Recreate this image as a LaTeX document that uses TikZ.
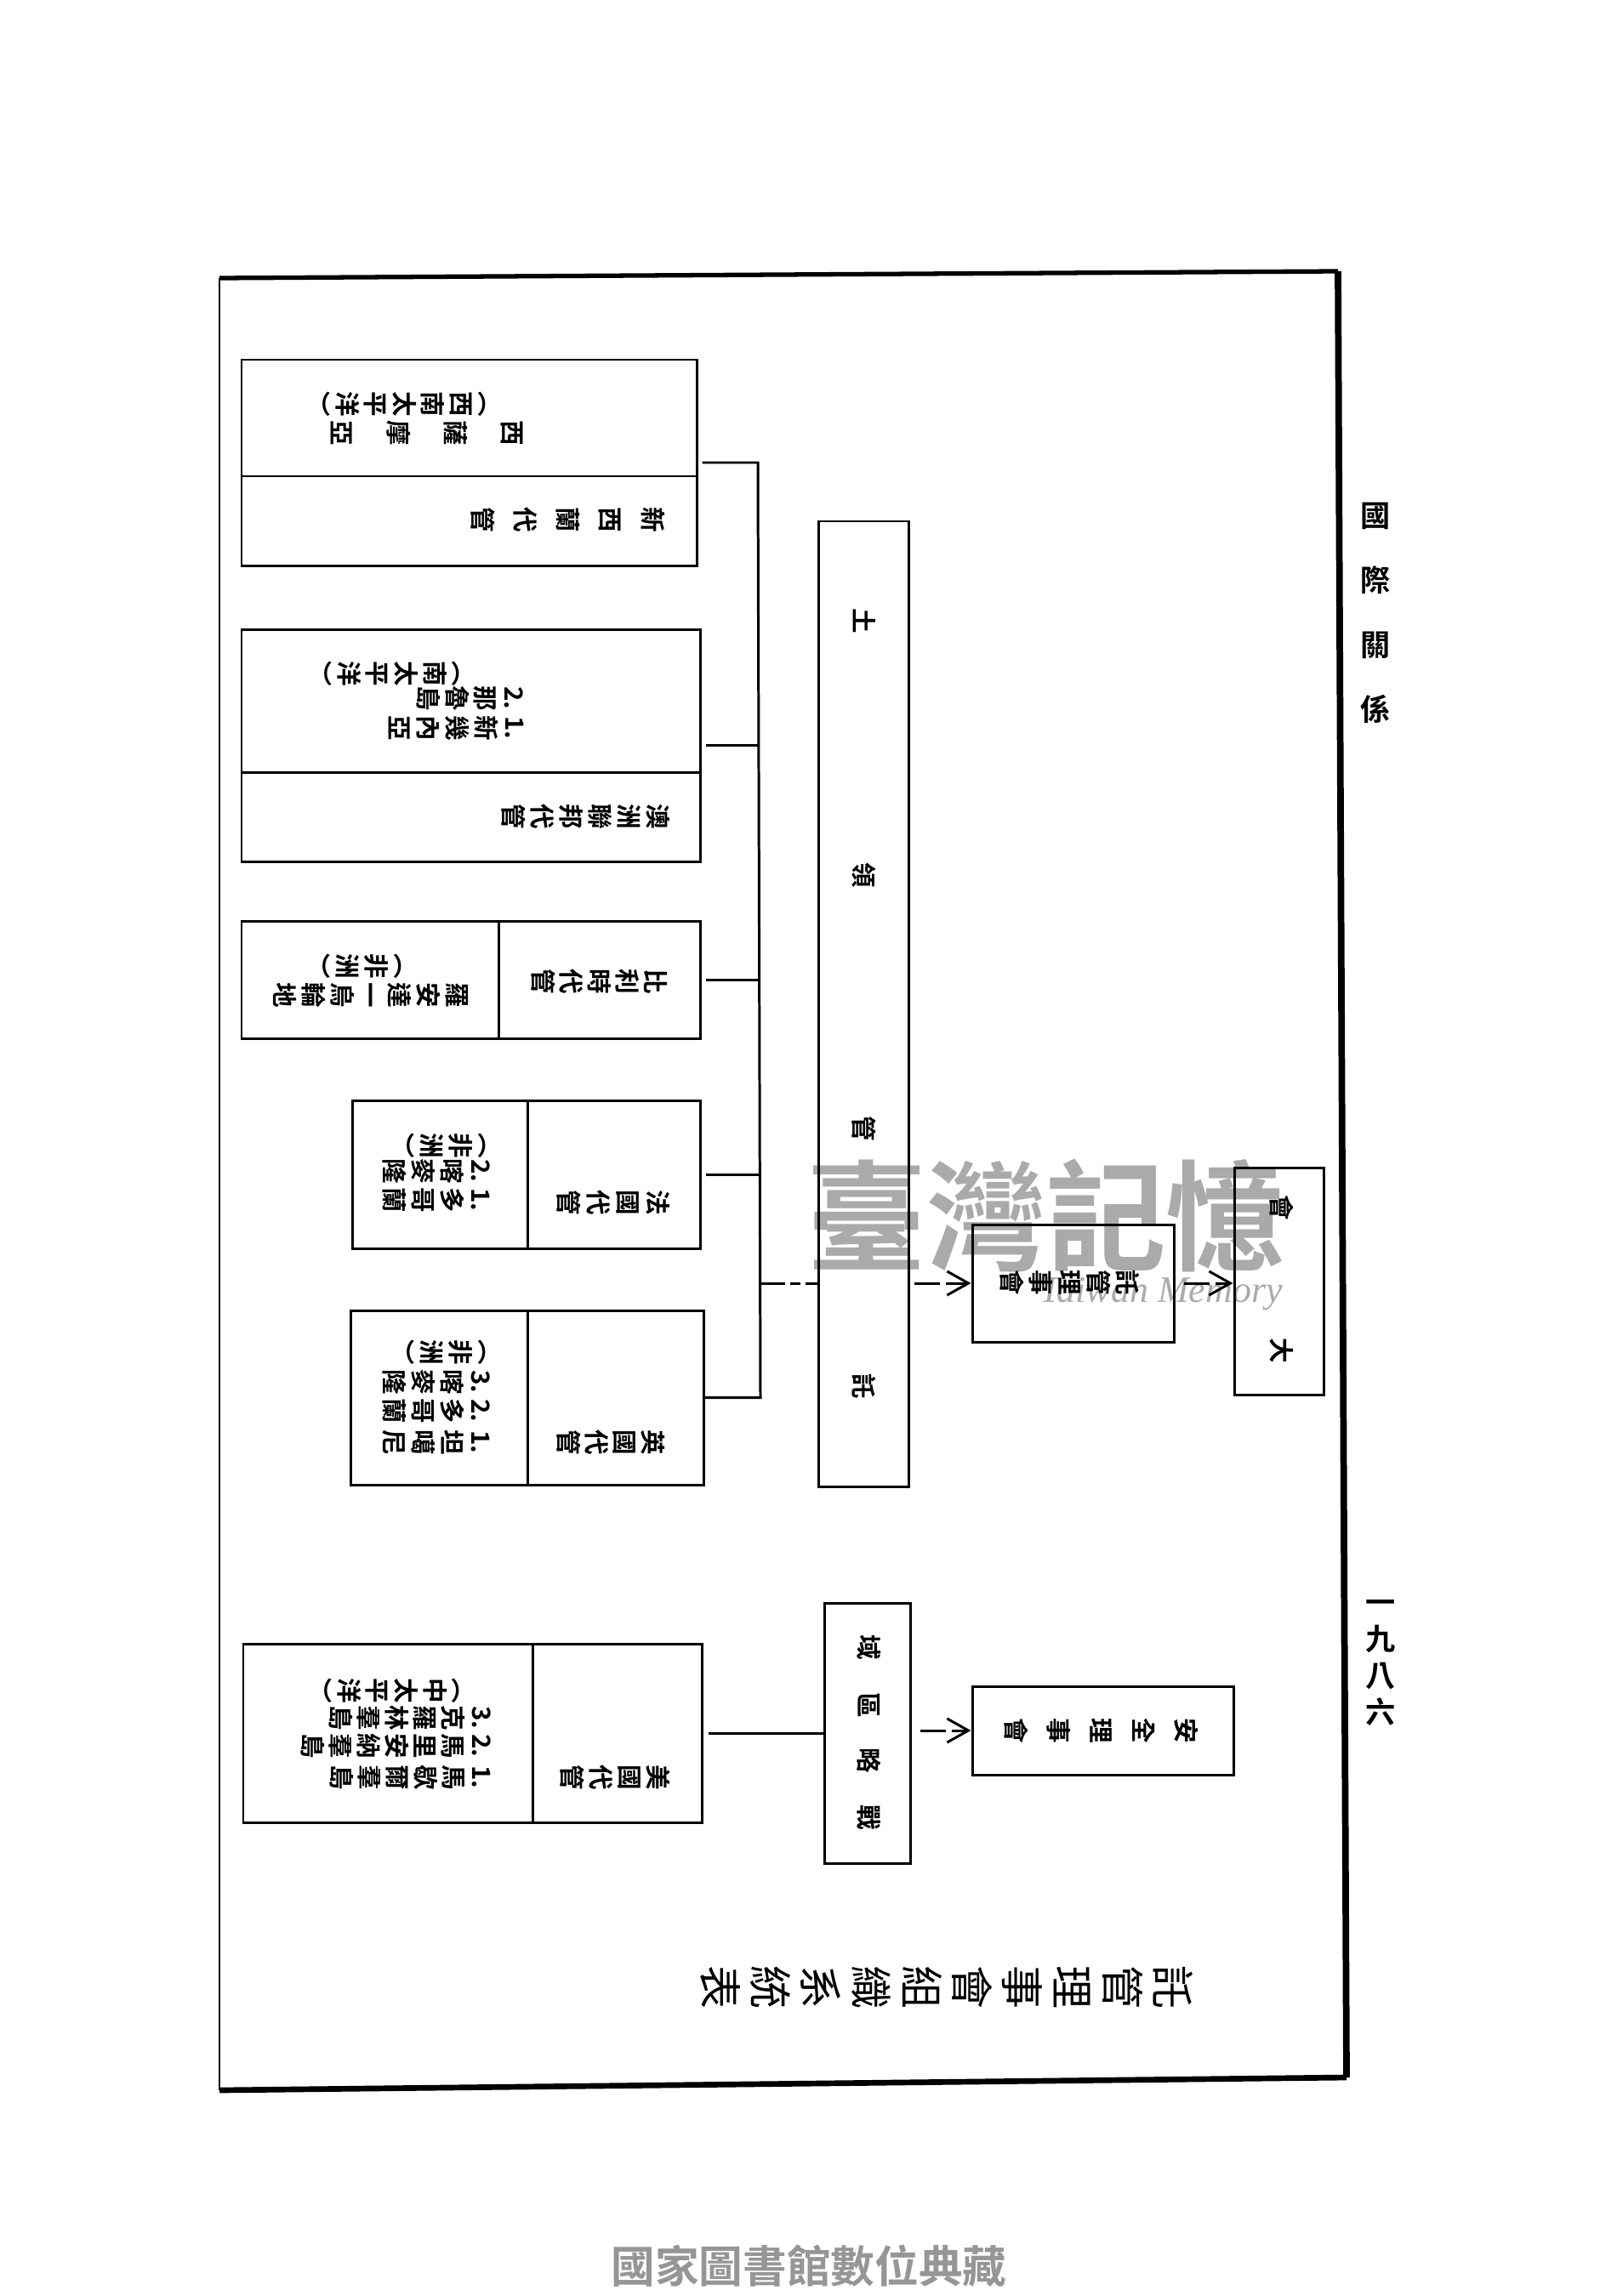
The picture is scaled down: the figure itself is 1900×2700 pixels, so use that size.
\documentclass[tikz,border=0pt]{standalone}
\usepackage{fontspec}
\usetikzlibrary{arrows.meta}
\newfontfamily\cjk[BoldFont={Noto Sans CJK TC Bold}]{Noto Sans CJK TC}
\setmainfont{Liberation Serif}
\newdimen\pxu \pxu=0.2845pt
\definecolor{markgray}{RGB}{170,170,170}
\definecolor{footgray}{RGB}{150,150,150}

\begin{document}
\begin{tikzpicture}[x=0.01cm, y=-0.01cm,
    tbox/.style 2 args={draw, line width=0.85pt, inner sep=0pt, minimum width=#1*0.01cm, minimum height=#2*0.01cm},
    row/.style={rotate=-90, align=center, inner sep=0pt, font={\cjk\bfseries\fontsize{8.4pt}{10pt}\selectfont\baselineskip=#1\pxu}},
    glyph/.style={rotate=-90, inner sep=0pt, font={\cjk\bfseries\fontsize{8.4pt}{10pt}\selectfont}},
    upright/.style={align=center, inner sep=0pt, font={\cjk\bfseries\fontsize{10pt}{12pt}\selectfont\baselineskip=#1\pxu}},
    conn/.style={line width=0.85pt},
    flow/.style={line width=0.85pt, dash pattern=on 0.3cm off 0.07cm, -{Straight Barb[length=0.25cm, width=0.28cm]}}]
  \useasboundingbox (0,0) rectangle (1900,2700);
  % the watermark, under everything else
  \node[inner sep=0pt, text=markgray, font={\cjk\bfseries\fontsize{40pt}{44pt}\selectfont}] (markcjk) at (1230,1430) {臺灣記憶};
  \node[inner sep=0pt, text=markgray, font={\itshape\fontsize{12.5pt}{15pt}\selectfont}] (markeng) at (1365,1522) {Taiwan Memory};
  % the page frame
  \draw[line width=0.6pt] (258,327) -- (258,2458);
  \draw[line width=1.5pt] (258,327) -- (1573,319);
  \draw[line width=2.2pt] (1573,319) -- (1583,2443);
  \draw[line width=1.9pt] (1583,2443) -- (258,2458);
  % running head and page number
  \node[upright=76] (head) at (1617,721) {國\\際\\關\\係};
  \node[upright=43] (pageno) at (1623,1955) {一\\九\\八\\六};
  % the five trust territories that feed the long box
  \node[tbox={535}{242}] (xinxilan) at (551.5,544) {};
  \draw[conn] (xinxilan.west |- 0,560) -- (xinxilan.east |- 0,560);
  \node[row=50] (xinxilana) at (668,611) {新\\西\\蘭\\代\\管};
  \node[row=66.7] (xinxilanb) at (502,509) {西\\薩\\摩\\亞};
  \node[row=33.5] (xinxilanc) at (467.5,475) {︵\\西\\南\\太\\平\\洋\\︶};

  \node[tbox={539}{273}] (aozhou) at (553.5,876.5) {};
  \draw[conn] (aozhou.west |- 0,908) -- (aozhou.east |- 0,908);
  \node[row=34] (aozhoua) at (689,960) {澳\\洲\\聯\\邦\\代\\管};
  \node[row=33.8] (aozhoub) at (536.5,856) {1.\\新\\幾\\內\\亞};
  \node[row=33.8] (aozhouc) at (552.5,821) {2.\\那\\魯\\島};
  \node[row=33.6] (aozhoud) at (453,792) {︵\\南\\太\\平\\洋\\︶};

  \node[tbox={539}{138}] (bilishi) at (553.5,1152) {};
  \draw[conn] (586,0 |- bilishi.north) -- (586,0 |- bilishi.south);
  \node[row=33] (bilishia) at (704.5,1154) {比\\利\\時\\代\\管};
  \node[row=33.7] (bilishib) at (436,1170) {羅\\安\\達\\一\\烏\\輪\\地};
  \node[row=34] (bilishic) at (418,1136) {︵\\非\\洲\\︶};

  \node[tbox={409}{174}] (faguo) at (618.5,1381) {};
  \draw[conn] (620,0 |- faguo.north) -- (620,0 |- faguo.south);
  \node[row=35] (faguoa) at (721.5,1414) {法\\國\\代\\管};
  \node[row=34] (faguob) at (513,1411) {1.\\多\\哥\\蘭};
  \node[row=34] (faguoc) at (513,1377) {2.\\喀\\麥\\隆};
  \node[row=34] (faguod) at (517,1347) {︵\\非\\洲\\︶};

  \node[tbox={415}{205}] (yingguo) at (619.5,1643.5) {};
  \draw[conn] (620,0 |- yingguo.north) -- (620,0 |- yingguo.south);
  \node[row=33] (yingguoa) at (718.5,1696) {英\\國\\代\\管};
  \node[row=34] (yingguob) at (513,1696) {1.\\坦\\噶\\尼};
  \node[row=34] (yingguoc) at (513,1659) {2.\\多\\哥\\蘭};
  \node[row=34] (yingguod) at (513,1625) {3.\\喀\\麥\\隆};
  \node[row=34] (yingguoe) at (517,1590) {︵\\非\\洲\\︶};

  % the bracket
  \coordinate (stemtop) at (891,544);
  \coordinate (stembot) at (894,1643.5);
  \coordinate (stemmid) at (893,1509);
  \draw[conn, shorten <=0.05cm] (xinxilan.east) -- (stemtop) -- (stembot) -- (yingguo.east);
  \draw[conn, shorten <=0.05cm] (aozhou.east) -- (aozhou.east -| stemtop);
  \draw[conn, shorten <=0.05cm] (bilishi.east) -- (bilishi.east -| stemtop);
  \draw[conn, shorten <=0.05cm] (faguo.east) -- (faguo.east -| stembot);

  % the long box and what it reports to
  \node[tbox={106}{1135}] (lingtu) at (1015,1180.5) {};
  \foreach \ch/\y [count=\i] in {託/1630, 管/1327, 領/1029, 土/730}
    \node[glyph] (lingtu\i) at (1016,\y) {\ch};
  \node[tbox={237}{138}] (lishi) at (1261.5,1509) {};
  \node[row=34] (lishitext) at (1258,1508) {託\\管\\理\\事\\會};
  \node[tbox={105}{267}] (dahui) at (1503.5,1506.5) {};
  \foreach \ch/\y [count=\i] in {大/1588, 會/1420}
    \node[glyph] (dahui\i) at (1507,\y) {\ch};
  \draw[conn, dash pattern=on 0.3cm off 0.06cm on 0.12cm off 0.06cm] (stemmid) -- (stemmid -| lingtu.west);
  \draw[flow, shorten <=0.05cm] (lingtu.east |- lishi) -- (lishi.west);
  \draw[flow, shorten <=0.1cm] (lishi.east) -- (lishi.east -| dahui.west);

  % the strategic area, on its own
  \node[tbox={539}{210}] (meiguo) at (555.5,2038) {};
  \draw[conn] (626,0 |- meiguo.north) -- (626,0 |- meiguo.south);
  \node[row=33.7] (meiguoa) at (723.5,2090) {美\\國\\代\\管};
  \node[row=33] (meiguob) at (482,2090) {1.\\馬\\歇\\爾\\羣\\島};
  \node[row=33] (meiguoc) at (465.5,2053) {2.\\馬\\里\\安\\納\\羣\\島};
  \node[row=33] (meiguod) at (482,2020) {3.\\克\\羅\\林\\羣\\島};
  \node[row=33.6] (meiguoe) at (453,1988) {︵\\中\\太\\平\\洋\\︶};
  \node[tbox={101}{306}] (zhanlue) at (1019.5,2038) {};
  \foreach \ch/\y [count=\i] in {戰/2137, 略/2070, 區/2005, 域/1937}
    \node[glyph] (zhanlue\i) at (1022,\y) {\ch};
  \node[tbox={307}{104}] (anquan) at (1296.5,2035) {};
  \node[row=50] (anquantext) at (1295,2035) {安\\全\\理\\事\\會};
  \draw[conn, shorten <=0.06cm] (meiguo.east) -- (zhanlue.west);
  \draw[flow, shorten <=0.1cm] (zhanlue.east |- anquan) -- (anquan.west);

  % the table's title and the library's line
  \node[rotate=-90, align=center, inner sep=0pt, font={\cjk\fontsize{14.5pt}{16pt}\selectfont\baselineskip=59\pxu}] (title) at (1113,2337)
    {託\\管\\理\\事\\會\\組\\織\\系\\統\\表};
  \node[inner sep=0pt, text=footgray, font={\cjk\bfseries\fontsize{14.7pt}{16pt}\selectfont}] (footer) at (951,2665) {國家圖書館數位典藏};
\end{tikzpicture}
\end{document}
